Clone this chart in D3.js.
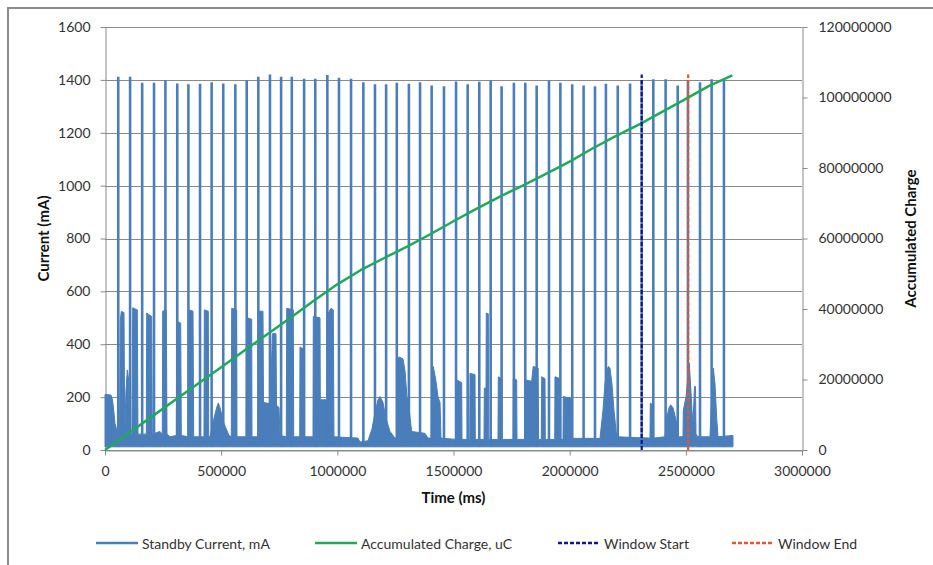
<!DOCTYPE html>
<html>
<head>
<meta charset="utf-8">
<script src="https://cdn.jsdelivr.net/npm/d3@7"></script>
<style>
  html, body { margin: 0; padding: 0; background: #ffffff; }
  svg { display: block; font-family: Lato, "Open Sans", sans-serif; }
</style>
</head>
<body>
<svg id="chart" width="933" height="565"></svg>
<script>
// ---- Axis ticks ----
const timeTicks = [0, 500000, 1000000, 1500000, 2000000, 2500000, 3000000];
const currentTicks = [0, 200, 400, 600, 800, 1000, 1200, 1400, 1600];
const chargeTicks = [0, 20000000, 40000000, 60000000, 80000000, 100000000, 120000000];

// ---- Standby current: periodic transmit spikes (ms, mA) ----
const spikeTimes = [
  57000, 108000, 160000, 211000, 260000, 311000, 359000, 409000, 459000, 509000,
  561000, 610000, 660000, 710000, 758000, 804000, 857000, 905000, 957000, 1007000,
  1059000, 1112000, 1162000, 1210000, 1256000, 1308000, 1356000, 1406000, 1459000, 1511000,
  1561000, 1611000, 1660000, 1707000, 1760000, 1809000, 1858000, 1911000, 1960000, 2011000,
  2060000, 2109000, 2156000, 2207000, 2260000, 2310000, 2360000, 2413000, 2465000, 2509000,
  2561000, 2611000, 2664000
];
const spikePeaks = [
  1412, 1412, 1389, 1389, 1399, 1386, 1383, 1385, 1391, 1386,
  1383, 1399, 1412, 1420, 1412, 1412, 1404, 1404, 1418, 1408,
  1404, 1391, 1383, 1383, 1389, 1385, 1391, 1379, 1376, 1394,
  1383, 1393, 1399, 1376, 1389, 1389, 1379, 1399, 1389, 1383,
  1379, 1376, 1385, 1379, 1386, 1400, 1402, 1402, 1379, 1400,
  1391, 1402, 1402
];

// ---- Standby current: envelope of the sampled signal between spikes (ms, mA) ----
const envTimes = [
  0, 25800, 32300, 38700, 43000, 50400, 56000, 62400, 65900, 70200,
  81800, 84800, 90400, 96000, 102000, 104600, 116200, 119200, 139000, 142000,
  177800, 179500, 189400, 201000, 203600, 236700, 246600, 248300, 263800, 266800,
  279800, 306900, 308600, 325800, 328400, 358500, 360300, 378800, 381800, 426100,
  427400, 444600, 446300, 451900, 469100, 482000, 487700, 495000, 512200, 533700,
  543600, 545300, 566800, 568100, 608100, 609900, 631400, 632700, 661500, 665000,
  680000, 682200, 710200, 720900, 736000, 738100, 748900, 753200, 780300, 782100,
  810500, 812200, 838000, 839300, 856500, 857800, 895200, 896500, 925400, 926700,
  959800, 961100, 972700, 982600, 985600, 1088900, 1097500, 1132000, 1149200, 1162100,
  1175000, 1183600, 1196500, 1209500, 1226700, 1248200, 1255500, 1256800, 1265400, 1282600,
  1291200, 1299800, 1305400, 1320000, 1377300, 1390200, 1404400, 1406200, 1413000, 1424700,
  1433300, 1441900, 1446200, 1512000, 1513800, 1535300, 1536600, 1569700, 1571000, 1592500,
  1593800, 1631300, 1632600, 1639900, 1641200, 1649800, 1651500, 1691500, 1692800, 1707500,
  1708700, 1756100, 1757400, 1772000, 1773300, 1806400, 1807700, 1836500, 1843000, 1864500,
  1866200, 1877800, 1879600, 1893800, 1895100, 1935600, 1936800, 1958300, 1959700, 1971300,
  1972600, 2008700, 2010000, 2130500, 2143400, 2152000, 2160600, 2166200, 2173500, 2182100,
  2190700, 2202400, 2345700, 2347000, 2359900, 2361600, 2410200, 2417600, 2427500, 2434800,
  2444700, 2453300, 2460600, 2466200, 2487800, 2489100, 2500700, 2509300, 2514900, 2520100,
  2526500, 2530800, 2537300, 2541600, 2543800, 2552400, 2604000, 2611300, 2618200, 2625600,
  2632900, 2638500, 2703000
];
const envHigh = [
  210, 208, 190, 140, 100, 76, 60, 60, 490, 524,
  520, 70, 227, 303, 265, 60, 60, 538, 530, 60,
  60, 518, 512, 505, 60, 70, 60, 525, 530, 60,
  50, 55, 486, 480, 55, 50, 530, 525, 50, 50,
  530, 525, 50, 50, 120, 165, 178, 160, 100, 55,
  50, 536, 530, 50, 50, 500, 495, 50, 50, 525,
  525, 180, 175, 440, 440, 170, 160, 55, 50, 536,
  530, 50, 50, 390, 380, 50, 50, 505, 500, 190,
  190, 518, 536, 530, 50, 45, 30, 35, 80, 140,
  190, 202, 180, 120, 70, 45, 45, 330, 352, 345,
  300, 200, 180, 70, 63, 45, 45, 300, 316, 260,
  200, 181, 45, 40, 265, 255, 40, 40, 290, 285,
  40, 40, 234, 234, 518, 515, 40, 40, 277, 270,
  40, 40, 271, 265, 40, 40, 265, 260, 316, 310,
  40, 40, 277, 270, 40, 40, 277, 270, 40, 40,
  202, 195, 44, 44, 150, 250, 300, 316, 310, 250,
  150, 50, 45, 177, 170, 45, 50, 120, 160, 171,
  160, 130, 100, 50, 50, 150, 200, 280, 329, 250,
  150, 100, 240, 240, 60, 50, 50, 200, 310, 250,
  120, 50, 55
];
const baselineFloor = 12; // lowest sampled current, mA

// ---- Accumulated charge (ms, uC) ----
const chargeTimes = [
  0, 100000, 200000, 300000, 400000, 500000, 600000, 700000, 800000, 900000,
  1000000, 1100000, 1200000, 1300000, 1400000, 1500000, 1600000, 1700000, 1800000, 1900000,
  2000000, 2100000, 2200000, 2300000, 2400000, 2500000, 2600000, 2700000
];
const chargeValues = [
  0, 4700000, 9400000, 14100000, 18800000, 23500000, 28200000, 32900000, 37600000, 42400000,
  47000000, 51000000, 54400000, 57700000, 61200000, 64900000, 68500000, 71900000, 75100000, 78400000,
  81800000, 85600000, 89100000, 92400000, 96000000, 99600000, 103300000, 106300000
];

// ---- Measurement window markers (ms) ----
const windowStart = 2310000;
const windowEnd = 2510000;
const windowTop = 1420;

// ---- Legend ----
const legendLabels = ["Standby Current, mA", "Accumulated Charge, uC", "Window Start", "Window End"];

// ---------------------------------------------------------------
const svg = d3.select("#chart");
const W = 933, H = 565;
const plot = { left: 105, right: 802, top: 27, bottom: 450 };

const colors = {
  current: "#4a7ebb",
  charge: "#1fa95a",
  start: "#14148f",
  end: "#e0582c",
  grid: "#8a8a8a",
  text: "#333333"
};

const x = d3.scaleLinear().domain([0, 3000000]).range([plot.left, plot.right]);
const y = d3.scaleLinear().domain([0, 1600]).range([plot.bottom, plot.top]);
const y2 = d3.scaleLinear().domain([0, 120000000]).range([plot.bottom, plot.top]);

// chart frame
svg.append("rect")
  .attr("x", 8).attr("y", 8).attr("width", W + 20).attr("height", H + 20)
  .attr("fill", "none").attr("stroke", "#8c8c8c").attr("stroke-width", 2);

// horizontal gridlines
svg.append("g").selectAll("line").data(currentTicks).join("line")
  .attr("x1", plot.left).attr("x2", plot.right)
  .attr("y1", d => Math.round(y(d)) + 0.5).attr("y2", d => Math.round(y(d)) + 0.5)
  .attr("stroke", colors.grid).attr("stroke-width", 1);

// axes
function styleAxis(g) {
  g.selectAll(".domain").attr("stroke", colors.grid).attr("stroke-width", 1);
  g.selectAll(".tick line").attr("stroke", colors.grid);
  g.selectAll(".tick text").attr("fill", colors.text).style("font-size", "14px")
    .style("font-family", "Lato, 'Open Sans', sans-serif");
}

svg.append("g")
  .attr("transform", `translate(${plot.left + 0.5},0)`)
  .call(d3.axisLeft(y).tickValues(currentTicks).tickFormat(d3.format("d")).tickSize(5).tickPadding(10).tickSizeOuter(0))
  .call(styleAxis);

svg.append("g")
  .attr("transform", `translate(${plot.right + 0.5},0)`)
  .call(d3.axisRight(y2).tickValues(chargeTicks).tickFormat(d3.format("d")).tickSize(5).tickPadding(11).tickSizeOuter(0))
  .call(styleAxis);

svg.append("g")
  .attr("transform", `translate(0,${plot.bottom + 0.5})`)
  .call(d3.axisBottom(x).tickValues(timeTicks).tickFormat(d3.format("d")).tickSize(5).tickPadding(11).tickSizeOuter(0))
  .call(styleAxis);

// ---- Standby current ----
const envData = envTimes.map((t, i) => ({ t, hi: envHigh[i] }));
const area = d3.area()
  .x(d => x(d.t))
  .y0(y(baselineFloor))
  .y1(d => y(d.hi));

const gCur = svg.append("g");
gCur.append("path")
  .datum(envData)
  .attr("d", area)
  .attr("fill", colors.current)
  .attr("stroke", colors.current)
  .attr("stroke-width", 1)
  .attr("stroke-linejoin", "round");

gCur.selectAll("line.spike")
  .data(spikeTimes.map((t, i) => ({ t, v: spikePeaks[i] })))
  .join("line")
  .attr("class", "spike")
  .attr("x1", d => x(d.t)).attr("x2", d => x(d.t))
  .attr("y1", y(baselineFloor)).attr("y2", d => y(d.v))
  .attr("stroke", colors.current)
  .attr("stroke-width", 2.6);

// ---- Accumulated charge ----
const line = d3.line().x(d => x(d[0])).y(d => y2(d[1]));
svg.append("path")
  .datum(chargeTimes.map((t, i) => [t, chargeValues[i]]))
  .attr("d", line)
  .attr("fill", "none")
  .attr("stroke", colors.charge)
  .attr("stroke-width", 2.5)
  .attr("stroke-linejoin", "round");

// ---- Window markers ----
[[windowStart, colors.start], [windowEnd, colors.end]].forEach(([t, c]) => {
  svg.append("line")
    .attr("x1", x(t)).attr("x2", x(t))
    .attr("y1", y(0)).attr("y2", y(windowTop))
    .attr("stroke", c).attr("stroke-width", 2.2)
    .attr("stroke-dasharray", "4,2");
});

// ---- Axis titles ----
svg.append("text")
  .attr("transform", `translate(43,${(plot.top + plot.bottom) / 2}) rotate(-90)`)
  .attr("text-anchor", "middle").attr("dominant-baseline", "central")
  .style("font-size", "15px").style("font-weight", "bold").attr("fill", "#111")
  .text("Current (mA)");

svg.append("text")
  .attr("x", (plot.left + plot.right) / 2).attr("y", 497)
  .attr("text-anchor", "middle").attr("dominant-baseline", "central")
  .style("font-size", "15px").style("font-weight", "bold").attr("fill", "#111")
  .text("Time (ms)");

svg.append("text")
  .attr("transform", `translate(910,${(plot.top + plot.bottom) / 2}) rotate(-90)`)
  .attr("text-anchor", "middle").attr("dominant-baseline", "central")
  .style("font-size", "15px").style("font-weight", "bold").attr("fill", "#111")
  .text("Accumulated Charge");

// ---- Legend ----
const legendY = 543;
const legendItems = [
  { x: 96, color: colors.current, dash: null },
  { x: 315, color: colors.charge, dash: null },
  { x: 558, color: colors.start, dash: "4,2" },
  { x: 732, color: colors.end, dash: "4,2" }
];
const gLeg = svg.append("g");
legendItems.forEach((it, i) => {
  gLeg.append("line")
    .attr("x1", it.x).attr("x2", it.x + 42)
    .attr("y1", legendY).attr("y2", legendY)
    .attr("stroke", it.color).attr("stroke-width", 2.5)
    .attr("stroke-dasharray", it.dash);
  gLeg.append("text")
    .attr("x", it.x + 46).attr("y", legendY)
    .attr("dominant-baseline", "central")
    .style("font-size", "14px").attr("fill", colors.text)
    .text(legendLabels[i]);
});
</script>
</body>
</html>
